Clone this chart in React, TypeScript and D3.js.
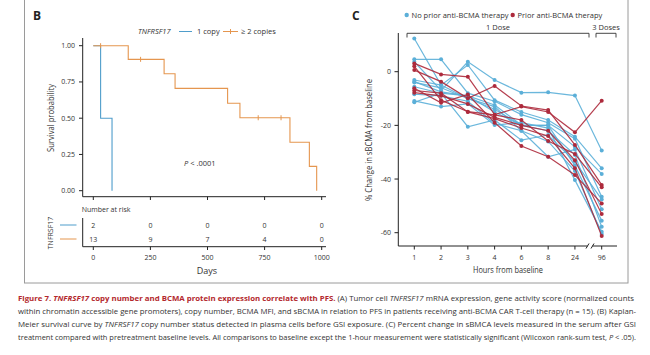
import React from "react";
import * as d3 from "d3";

// ---------- Panel B data (Kaplan–Meier) ----------
const kmBlueTimes = [0, 32, 82];
const kmBlueSurv = [1, 0.5, 0];
const kmOrangeTimes = [0, 153, 310, 358, 588, 642, 861, 946, 978];
const kmOrangeSurv = [1, 0.906, 0.807, 0.706, 0.603, 0.503, 0.334, 0.168, 0];
const kmOrangeCensorTimes = [32, 207, 722, 822];
const kmOrangeCensorSurv = [1, 0.906, 0.503, 0.503];
const yTicksB = [0, 0.25, 0.5, 0.75, 1];
const xTicksB = [0, 250, 500, 750, 1000];
const riskBlue = [2, 0, 0, 0, 0];
const riskOrange = [13, 9, 7, 4, 0];

// ---------- Panel C data ----------
const hours = ["1", "2", "3", "4", "6", "8", "24", "96"];
const yTicksC = [0, -20, -40, -60];
const noPriorSeries = [
  [12.4, -5, -10, -14, -20, -22, -31, -57.8],
  [4.6, 4.6, -8, -11, -16, -19, -25, -46.6],
  [3.7, -7, 3.7, -3.1, -7.8, -7.7, -8.9, -29.4],
  [-3.1, -5, 2.5, -10.6, -15, -18, -24.2, -36],
  [-3.7, -7.5, -9, -12.4, -19.9, -20, -28, -38.1],
  [-5.6, -8, -20.5, -18, -25.5, -23.6, -33.5, -47.6],
  [-8.4, -9, -11, -19.3, -22, -31.7, -29, -51.3],
  [-10.9, -13, -12, -19.9, -19, -21, -40.4, -59.6],
  [-11.4, -8, -9, -15, -20, -20, -35, -55.5],
  [-4, -6, -10, -13, -22, -26, -37, -60.5],
];
const priorSeries = [
  [3.1, -1, -1.9, -16, -13, -15, -22.6, -10.8],
  [0.6, -3.7, -9.9, -5.3, -12.8, -14.3, -27.3, -42.2],
  [2, -10.6, -14.9, -16.1, -18, -25.8, -30.7, -43.1],
  [-6.2, -11.6, -8.5, -19, -27.7, -31.7, -38.5, -49.1],
  [-7.8, -9, -12, -17, -20, -22, -33, -53],
  [-7, -8, -15, -17.5, -21, -24, -36, -61.2],
];

const BLUE_KM = "#4f9dcb";
const ORANGE_KM = "#e5964f";
const BLUE_C = "#5bafd8";
const RED_C = "#ad2a3c";
const FONT = "'Open Sans', 'DejaVu Sans', sans-serif";

export default function App() {
  // Panel B scales
  const xB = d3.scaleLinear().domain([0, 1000]).range([93.3, 321.7]);
  const yB = d3.scaleLinear().domain([0, 1]).range([190.7, 45.7]);
  const stepLine = d3
    .line<[number, number]>()
    .x((d) => xB(d[0]))
    .y((d) => yB(d[1]))
    .curve(d3.curveStepAfter);
  const bluePts: [number, number][] = kmBlueTimes.map((t, i) => [t, kmBlueSurv[i]]);
  const orangePts: [number, number][] = kmOrangeTimes.map((t, i) => [t, kmOrangeSurv[i]]);

  // Panel C scales
  const xC = d3.scalePoint<string>().domain(hours).range([414.3, 601.7]);
  const yC = d3.scaleLinear().domain([-60, 0]).range([232.7, 71.7]);
  const lineC = d3
    .line<number>()
    .x((_, i) => xC(hours[i]) as number)
    .y((d) => yC(d));

  const tickFont = { fontFamily: FONT, fontSize: 7, fill: "#333" };

  return (
    <svg width={650} height={355} style={{ position: "absolute", left: 0, top: 0 }}>
      <rect x={0} y={0} width={650} height={355} fill="#fff" />
      {/* frame */}
      <rect x={24.5} y={-5} width={603.5} height={288} fill="none" stroke="#9a9a9a" strokeWidth={1} />

      {/* ================= Panel B ================= */}
      <text x={33} y={20} fontFamily={FONT} fontWeight={700} fontSize={12} fill="#222">B</text>
      {/* legend */}
      <text x={138} y={34} fontFamily={FONT} fontSize={7.5} fontStyle="italic" fill="#333">TNFRSF17</text>
      <line x1={179} x2={192} y1={31.5} y2={31.5} stroke={BLUE_KM} strokeWidth={1} />
      <text x={197} y={34} fontFamily={FONT} fontSize={7.5} fill="#333">1 copy</text>
      <line x1={223} x2={238} y1={31.5} y2={31.5} stroke={ORANGE_KM} strokeWidth={1} />
      <line x1={230.5} x2={230.5} y1={29} y2={34} stroke={ORANGE_KM} strokeWidth={1} />
      <text x={241} y={34} fontFamily={FONT} fontSize={7.5} fill="#333">≥ 2 copies</text>

      {/* axes */}
      <line x1={82.7} x2={82.7} y1={38} y2={196.7} stroke="#222" strokeWidth={1} />
      <line x1={82.7} x2={326} y1={196.7} y2={196.7} stroke="#222" strokeWidth={1} />
      {yTicksB.map((t) => (
        <g key={"yb" + t}>
          <line x1={79} x2={82.7} y1={yB(t)} y2={yB(t)} stroke="#222" />
          <text x={75} y={yB(t) + 2.5} textAnchor="end" {...tickFont}>{t.toFixed(2)}</text>
        </g>
      ))}
      {xTicksB.map((t) => (
        <line key={"xb" + t} x1={xB(t)} x2={xB(t)} y1={196.7} y2={200} stroke="#222" />
      ))}
      <text
        transform="translate(54,118) rotate(-90)"
        textAnchor="middle"
        fontFamily={FONT}
        fontSize={8.5}
        fill="#333"
        textLength={68}
        lengthAdjust="spacingAndGlyphs"
      >
        Survival probability
      </text>

      {/* curves */}
      <path d={stepLine(bluePts) || ""} fill="none" stroke={BLUE_KM} strokeWidth={1.1} />
      <path d={stepLine(orangePts) || ""} fill="none" stroke={ORANGE_KM} strokeWidth={1.1} />
      {kmOrangeCensorTimes.map((t, i) => (
        <line
          key={"c" + i}
          x1={xB(t)}
          x2={xB(t)}
          y1={yB(kmOrangeCensorSurv[i]) - 2.5}
          y2={yB(kmOrangeCensorSurv[i]) + 2.5}
          stroke={ORANGE_KM}
          strokeWidth={1}
        />
      ))}
      <text x={184} y={166} fontFamily={FONT} fontSize={7.5} fill="#333">
        <tspan fontStyle="italic">P</tspan> &lt; .0001
      </text>

      {/* risk table */}
      <text x={81.7} y={212} fontFamily={FONT} fontSize={7} fill="#333">Number at risk</text>
      <line x1={82.7} x2={82.7} y1={218} y2={246.7} stroke="#222" />
      <line x1={82.7} x2={326} y1={246.7} y2={246.7} stroke="#222" />
      {xTicksB.map((t, i) => (
        <g key={"r" + t}>
          <text x={xB(t)} y={227.5} textAnchor="middle" {...tickFont}>{riskBlue[i]}</text>
          <text x={xB(t)} y={241.5} textAnchor="middle" {...tickFont}>{riskOrange[i]}</text>
          <line x1={xB(t)} x2={xB(t)} y1={246.7} y2={250} stroke="#222" />
          <text x={xB(t)} y={260} textAnchor="middle" {...tickFont}>{t}</text>
        </g>
      ))}
      <line x1={60} x2={76.5} y1={225} y2={225} stroke={BLUE_KM} strokeWidth={1} />
      <line x1={60} x2={76.5} y1={239} y2={239} stroke={ORANGE_KM} strokeWidth={1} />
      <text transform="translate(52.5,233) rotate(-90)" textAnchor="middle" fontFamily={FONT} fontSize={7} fill="#333">
        TNFRSF17
      </text>
      <text x={207} y={274} textAnchor="middle" fontFamily={FONT} fontSize={9} fill="#333">Days</text>

      {/* ================= Panel C ================= */}
      <text x={352} y={20} fontFamily={FONT} fontWeight={700} fontSize={12} fill="#222">C</text>
      <circle cx={406.7} cy={15} r={2.2} fill={BLUE_C} />
      <text x={411.5} y={17.6} fontFamily={FONT} fontSize={7.5} fill="#333">No prior anti-BCMA therapy</text>
      <circle cx={512.7} cy={15} r={2.2} fill={RED_C} />
      <text x={517.5} y={17.6} fontFamily={FONT} fontSize={7.5} fill="#333">Prior anti-BCMA therapy</text>

      {/* dose brackets */}
      <path d="M407,37.5 V33.3 H589 V37.5" fill="none" stroke="#333" strokeWidth={0.9} />
      <text x={498} y={30} textAnchor="middle" fontFamily={FONT} fontSize={7.5} fill="#333">1 Dose</text>
      <path d="M596,37.5 V33.3 H616 V37.5" fill="none" stroke="#333" strokeWidth={0.9} />
      <text x={606} y={30} textAnchor="middle" fontFamily={FONT} fontSize={7.5} fill="#333">3 Doses</text>

      {/* axes */}
      <line x1={398.3} x2={398.3} y1={33} y2={246} stroke="#222" />
      <line x1={398.3} x2={587.5} y1={246} y2={246} stroke="#222" />
      <line x1={592.5} x2={617} y1={246} y2={246} stroke="#222" />
      <line x1={586} x2={589} y1={248.5} y2={243.5} stroke="#222" />
      <line x1={591} x2={594} y1={248.5} y2={243.5} stroke="#222" />
      {yTicksC.map((t) => (
        <g key={"yc" + t}>
          <line x1={394.5} x2={398.3} y1={yC(t)} y2={yC(t)} stroke="#222" />
          <text x={391} y={yC(t) + 2.5} textAnchor="end" {...tickFont}>{t}</text>
        </g>
      ))}
      {hours.map((h) => (
        <g key={"xc" + h}>
          <line x1={xC(h)} x2={xC(h)} y1={246} y2={249.5} stroke="#222" />
          <text x={xC(h)} y={260} textAnchor="middle" {...tickFont}>{h}</text>
        </g>
      ))}
      <text x={508} y={273} textAnchor="middle" fontFamily={FONT} fontSize={9} fill="#333" textLength={70} lengthAdjust="spacingAndGlyphs">
        Hours from baseline
      </text>
      <text
        transform="translate(372,140) rotate(-90)"
        textAnchor="middle"
        fontFamily={FONT}
        fontSize={8.5}
        fill="#333"
        textLength={122}
        lengthAdjust="spacingAndGlyphs"
      >
        % Change in sBCMA from baseline
      </text>

      {/* series */}
      {noPriorSeries.map((s, i) => (
        <g key={"b" + i}>
          <path d={lineC(s) || ""} fill="none" stroke={BLUE_C} strokeWidth={1.2} strokeOpacity={0.9} />
          {s.map((v, j) => (
            <circle key={j} cx={xC(hours[j])} cy={yC(v)} r={2} fill={BLUE_C} />
          ))}
        </g>
      ))}
      {priorSeries.map((s, i) => (
        <g key={"r" + i}>
          <path d={lineC(s) || ""} fill="none" stroke={RED_C} strokeWidth={1.2} strokeOpacity={0.9} />
          {s.map((v, j) => (
            <circle key={j} cx={xC(hours[j])} cy={yC(v)} r={2} fill={RED_C} />
          ))}
        </g>
      ))}

      {/* ================= Caption ================= */}
      <text x={18} y={301} fontFamily={FONT} fontSize={7} fill="#333" textLength={616} lengthAdjust="spacingAndGlyphs">
        <tspan fill="#b3282d" fontWeight={700}>Figure 7. </tspan>
        <tspan fill="#b3282d" fontWeight={700} fontStyle="italic">TNFRSF17</tspan>
        <tspan fill="#b3282d" fontWeight={700}> copy number and BCMA protein expression correlate with PFS.</tspan>
        <tspan> (A) Tumor cell </tspan>
        <tspan fontStyle="italic">TNFRSF17</tspan>
        <tspan> mRNA expression, gene activity score (normalized counts</tspan>
      </text>
      <text x={18} y={314} fontFamily={FONT} fontSize={7} fill="#333" textLength={618} lengthAdjust="spacingAndGlyphs">
        within chromatin accessible gene promoters), copy number, BCMA MFI, and sBCMA in relation to PFS in patients receiving anti-BCMA CAR T-cell therapy (n = 15). (B) Kaplan-
      </text>
      <text x={18} y={327} fontFamily={FONT} fontSize={7} fill="#333" textLength={618} lengthAdjust="spacingAndGlyphs">
        Meier survival curve by <tspan fontStyle="italic">TNFRSF17</tspan> copy number status detected in plasma cells before GSI exposure. (C) Percent change in sBMCA levels measured in the serum after GSI
      </text>
      <text x={18} y={340} fontFamily={FONT} fontSize={7} fill="#333" textLength={618} lengthAdjust="spacingAndGlyphs">
        treatment compared with pretreatment baseline levels. All comparisons to baseline except the 1-hour measurement were statistically significant (Wilcoxon rank-sum test, <tspan fontStyle="italic">P</tspan> &lt; .05).
      </text>
    </svg>
  );
}
